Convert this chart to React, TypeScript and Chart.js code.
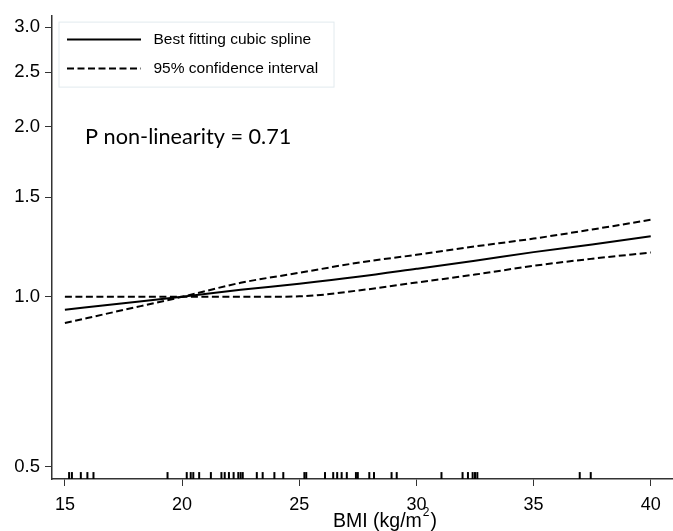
import React, { useEffect, useRef } from "react";
import { Chart, registerables } from "chart.js";

Chart.register(...registerables);

// ---- data ----
const bmi = [15, 17.5, 20, 22.5, 25, 27.5, 30, 32.5, 35, 37.5, 40];
const splineRR = [0.949, 0.974, 1.0, 1.029, 1.055, 1.085, 1.121, 1.159, 1.2, 1.238, 1.28];
const ciBoundA = [0.899, 0.948, 1.0, 1.059, 1.103, 1.149, 1.187, 1.228, 1.268, 1.316, 1.369];
const ciBoundB = [1.0, 1.0, 1.0, 1.0, 1.002, 1.026, 1.06, 1.095, 1.135, 1.168, 1.198];
const rugBMI = [
  15.18, 15.3, 15.68, 15.96, 16.22, 19.38, 20.2, 20.37, 20.48, 20.73, 21.23,
  21.68, 21.82, 22.0, 22.2, 22.4, 22.5, 22.59, 23.19, 23.44, 23.94, 24.32,
  25.22, 25.3, 26.1, 26.45, 26.62, 26.81, 27.03, 27.42, 27.5, 27.99, 28.19,
  28.94, 29.16, 31.07, 31.97, 32.2, 32.4, 32.5, 32.6, 36.97, 37.44,
];
const xTicks = [15, 20, 25, 30, 35, 40];
const yTicks = [0.5, 1.0, 1.5, 2.0, 2.5, 3.0];
const legendLabels = ["Best fitting cubic spline", "95% confidence interval"];
const annotationText = "P non-linearity = 0.71";
const xTitleMain = "BMI (kg/m";
const xTitleSup = "2";
const xTitleEnd = ")";

const RUG_Y = 0.4827;
const DASH = [7, 3.5];

const overlayPlugin = {
  id: "overlay",
  afterDraw(chart: any) {
    const ctx = chart.ctx;
    const ca = chart.chartArea;
    ctx.save();
    // legend box
    const bx = ca.left + 6.5;
    const by = ca.top + 5.5;
    const bw = 275;
    const bh = 65;
    ctx.fillStyle = "#ffffff";
    ctx.fillRect(bx, by, bw, bh);
    ctx.strokeStyle = "#e2eaee";
    ctx.lineWidth = 1;
    ctx.strokeRect(bx + 0.5, by + 0.5, bw, bh);
    const rows = [by + 18, by + 47];
    ctx.strokeStyle = "#000";
    ctx.lineWidth = 2;
    ctx.beginPath();
    ctx.setLineDash([]);
    ctx.moveTo(bx + 8.5, rows[0]);
    ctx.lineTo(bx + 82.5, rows[0]);
    ctx.stroke();
    ctx.beginPath();
    ctx.setLineDash(DASH);
    ctx.moveTo(bx + 8.5, rows[1]);
    ctx.lineTo(bx + 82.5, rows[1]);
    ctx.stroke();
    ctx.setLineDash([]);
    ctx.fillStyle = "#000";
    ctx.font = "15.5px 'Liberation Sans', Arial, sans-serif";
    ctx.textBaseline = "middle";
    ctx.textAlign = "left";
    ctx.fillText(legendLabels[0], bx + 95, rows[0]);
    ctx.fillText(legendLabels[1], bx + 95, rows[1]);

    // annotation
    ctx.font = "21.7px Lato, 'Open Sans', sans-serif";
    ctx.textBaseline = "alphabetic";
    ctx.fillText(annotationText, ca.left + 33, ca.top + 127.5);

    // x title
    const tx = 333;
    const ty = 527;
    ctx.font = "19.5px 'Liberation Sans', Arial, sans-serif";
    ctx.fillText(xTitleMain, tx, ty);
    const w1 = ctx.measureText(xTitleMain).width;
    ctx.font = "12px 'Liberation Sans', Arial, sans-serif";
    ctx.fillText(xTitleSup, tx + w1 + 1, ty - 11);
    const w2 = ctx.measureText(xTitleSup).width;
    ctx.font = "19.5px 'Liberation Sans', Arial, sans-serif";
    ctx.fillText(xTitleEnd, tx + w1 + w2 + 2, ty);
    ctx.restore();
  },
};

export default function App() {
  const ref = useRef<HTMLCanvasElement | null>(null);
  useEffect(() => {
    if (!ref.current) return;
    const lineStyle = {
      borderColor: "#000",
      borderWidth: 2,
      pointRadius: 0,
      fill: false,
      cubicInterpolationMode: "monotone" as const,
    };
    const chart = new Chart(ref.current, {
      type: "line",
      data: {
        datasets: [
          {
            label: legendLabels[0],
            data: bmi.map((x, i) => ({ x, y: splineRR[i] })),
            ...lineStyle,
          },
          {
            label: legendLabels[1],
            data: bmi.map((x, i) => ({ x, y: ciBoundA[i] })),
            ...lineStyle,
            borderDash: DASH,
          },
          {
            label: legendLabels[1],
            data: bmi.map((x, i) => ({ x, y: ciBoundB[i] })),
            ...lineStyle,
            borderDash: DASH,
          },
          {
            label: "rug",
            type: "scatter",
            data: rugBMI.map((x) => ({ x, y: RUG_Y })),
            pointStyle: "line",
            pointRotation: 90,
            pointRadius: 3.5,
            pointBorderWidth: 2,
            pointBorderColor: "#000",
            pointBackgroundColor: "#000",
            borderColor: "#000",
          } as any,
        ],
      },
      options: {
        responsive: false,
        animation: false,
        layout: { autoPadding: false, padding: { top: 9, right: 0, left: 0, bottom: 0 } },
        plugins: {
          legend: { display: false },
          tooltip: { enabled: false },
        },
        scales: {
          x: {
            type: "linear",
            min: 14.45,
            max: 40.95,
            afterBuildTicks: (s: any) => {
              s.ticks = xTicks.map((v) => ({ value: v }));
            },
            afterFit: (s: any) => {
              s.height = 52;
            },
            grid: {
              drawOnChartArea: false,
              tickLength: 7,
              color: "#333",
              tickWidth: 1,
            },
            border: { color: "#333", width: 1.5 },
            ticks: {
              color: "#000",
              padding: 8,
              maxRotation: 0,
              font: { family: "'Liberation Sans', Arial, sans-serif", size: 18 },
              callback: (v: any) => String(v),
            },
          },
          y: {
            type: "logarithmic",
            min: 0.476,
            max: 3.14,
            afterBuildTicks: (s: any) => {
              s.ticks = yTicks.map((v) => ({ value: v }));
            },
            afterFit: (s: any) => {
              s.width = 52;
            },
            grid: {
              drawOnChartArea: false,
              tickLength: 7,
              color: "#333",
              tickWidth: 1,
            },
            border: { color: "#333", width: 1.5 },
            ticks: {
              color: "#000",
              padding: 5,
              font: { family: "'Liberation Sans', Arial, sans-serif", size: 18.5 },
              callback: (v: any) => Number(v).toFixed(1),
            },
          },
        },
      },
      plugins: [overlayPlugin],
    });
    return () => chart.destroy();
  }, []);
  return (
    <div style={{ position: "fixed", left: 0, top: 0, width: 673, height: 531, background: "#fff" }}>
      <canvas ref={ref} width={673} height={531} />
    </div>
  );
}
